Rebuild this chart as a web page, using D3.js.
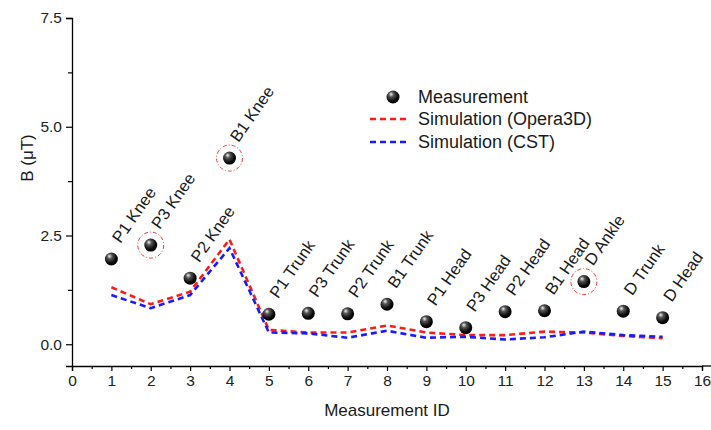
<!DOCTYPE html>
<html>
<head>
<meta charset="utf-8">
<script src="https://cdn.jsdelivr.net/npm/d3@7"></script>
<style>
  body { margin: 0; background: #fff; }
  text { font-family: "Liberation Sans", Arial, sans-serif; fill: #1a1a1a; }
</style>
</head>
<body>
<div id="chart"></div>
<script>
var ids = [1, 2, 3, 4, 5, 6, 7, 8, 9, 10, 11, 12, 13, 14, 15];
var names = ["P1 Knee", "P3 Knee", "P2 Knee", "B1 Knee", "P1 Trunk", "P3 Trunk", "P2 Trunk", "B1 Trunk",
             "P1 Head", "P3 Head", "P2 Head", "B1 Head", "D Ankle", "D Trunk", "D Head"];
var measured = [1.96, 2.28, 1.52, 4.28, 0.69, 0.71, 0.70, 0.92, 0.52, 0.38, 0.75, 0.77, 1.44, 0.76, 0.61];
var opera3d = [1.31, 0.92, 1.21, 2.41, 0.33, 0.27, 0.27, 0.43, 0.27, 0.21, 0.21, 0.29, 0.27, 0.19, 0.14];
var cst = [1.13, 0.83, 1.13, 2.21, 0.27, 0.25, 0.15, 0.31, 0.15, 0.17, 0.11, 0.16, 0.29, 0.21, 0.17];
var circled = [2, 4, 13];
var xTicks = d3.range(0, 17);
var yTicks = [0, 2.5, 5, 7.5];

var width = 711, height = 430;
var margin = {top: 18, right: 9, bottom: 64, left: 72};

var svg = d3.select("#chart").append("svg")
    .attr("width", width)
    .attr("height", height);

var x = d3.scaleLinear().domain([0, 16]).range([margin.left, width - margin.right]);
var y = d3.scaleLinear().domain([-0.5, 7.5]).range([height - margin.bottom, margin.top]);

var defs = svg.append("defs");
var grad = defs.append("radialGradient")
    .attr("id", "ball")
    .attr("cx", "40%").attr("cy", "35%").attr("r", "65%")
    .attr("fx", "35%").attr("fy", "28%");
grad.append("stop").attr("offset", "0%").attr("stop-color", "#f4f4f4");
grad.append("stop").attr("offset", "30%").attr("stop-color", "#555");
grad.append("stop").attr("offset", "75%").attr("stop-color", "#0a0a0a");
grad.append("stop").attr("offset", "100%").attr("stop-color", "#000");

// axes
svg.append("g")
    .attr("transform", "translate(0," + y(-0.5) + ")")
    .call(d3.axisBottom(x).tickValues(xTicks).tickFormat(d3.format("d")).tickSize(5).tickPadding(4));
svg.append("g")
    .attr("transform", "translate(0," + y(-0.5) + ")")
    .call(d3.axisBottom(x).tickValues(d3.range(0.5, 16, 1)).tickFormat("").tickSize(3))
    .select(".domain").remove();
// axis line runs on past the last tick
svg.append("line")
    .attr("x1", x(16)).attr("x2", width)
    .attr("y1", y(-0.5)).attr("y2", y(-0.5))
    .attr("stroke", "#000").attr("stroke-width", 1.3);

svg.append("g")
    .attr("transform", "translate(" + x(0) + ",0)")
    .call(d3.axisLeft(y).tickValues(yTicks).tickFormat(d3.format(".1f")).tickSize(6).tickPadding(4));
svg.append("g")
    .attr("transform", "translate(" + x(0) + ",0)")
    .call(d3.axisLeft(y).tickValues([1.25, 3.75, 6.25]).tickFormat("").tickSize(4))
    .select(".domain").remove();

svg.selectAll(".domain").attr("stroke", "#000").attr("stroke-width", 1.3);
svg.selectAll(".tick line").attr("stroke", "#000").attr("stroke-width", 1.2);
svg.selectAll(".tick text").style("font-size", "15.5px").style("fill", "#222");

svg.append("text")
    .attr("x", (x(0) + x(16)) / 2)
    .attr("y", 416)
    .attr("text-anchor", "middle")
    .style("font-size", "17px")
    .text("Measurement ID");

svg.append("text")
    .attr("transform", "translate(33,158) rotate(-90)")
    .attr("text-anchor", "middle")
    .style("font-size", "17px")
    .text("B (\u03bcT)");

// simulation lines
var line = function(vals) {
    return d3.line()
        .x(function(d, i) { return x(ids[i]); })
        .y(function(d) { return y(d); })(vals);
};

svg.append("path")
    .attr("d", line(opera3d))
    .attr("fill", "none")
    .attr("stroke", "#ff1a1a")
    .attr("stroke-width", 2.6)
    .attr("stroke-dasharray", "6,4");

svg.append("path")
    .attr("d", line(cst))
    .attr("fill", "none")
    .attr("stroke", "#1a1aff")
    .attr("stroke-width", 2.6)
    .attr("stroke-dasharray", "6,4");

// highlight circles
svg.selectAll(".ring")
    .data(circled)
    .enter()
    .append("circle")
    .attr("class", "ring")
    .attr("cx", function(d) { return x(d); })
    .attr("cy", function(d) { return y(measured[d - 1]); })
    .attr("r", 13)
    .attr("fill", "none")
    .attr("stroke", "#f03a3a")
    .attr("stroke-width", 1)
    .attr("stroke-dasharray", "4,2,1,2");

// measurements
svg.selectAll(".pt")
    .data(measured)
    .enter()
    .append("circle")
    .attr("class", "pt")
    .attr("cx", function(d, i) { return x(ids[i]); })
    .attr("cy", function(d) { return y(d); })
    .attr("r", 6.5)
    .attr("fill", "url(#ball)");

svg.selectAll(".lbl")
    .data(measured)
    .enter()
    .append("text")
    .attr("class", "lbl")
    .attr("transform", function(d, i) {
        return "translate(" + (x(ids[i]) + 9) + "," + (y(d) - 15) + ") rotate(-55)";
    })
    .style("font-size", "16.5px")
    .text(function(d, i) { return names[i]; });

// legend
var lg = svg.append("g").attr("transform", "translate(368,97)");
lg.append("circle").attr("cx", 25).attr("cy", 0).attr("r", 6.5).attr("fill", "url(#ball)");
lg.append("text").attr("x", 50).attr("y", 6).style("font-size", "18px").text("Measurement");

lg.append("line").attr("x1", 2).attr("x2", 40).attr("y1", 22).attr("y2", 22)
    .attr("stroke", "#ff1a1a").attr("stroke-width", 2.6).attr("stroke-dasharray", "6,4");
lg.append("text").attr("x", 50).attr("y", 28).style("font-size", "18px").text("Simulation (Opera3D)");

lg.append("line").attr("x1", 2).attr("x2", 40).attr("y1", 45).attr("y2", 45)
    .attr("stroke", "#1a1aff").attr("stroke-width", 2.6).attr("stroke-dasharray", "6,4");
lg.append("text").attr("x", 50).attr("y", 51).style("font-size", "18px").text("Simulation (CST)");
</script>
</body>
</html>
